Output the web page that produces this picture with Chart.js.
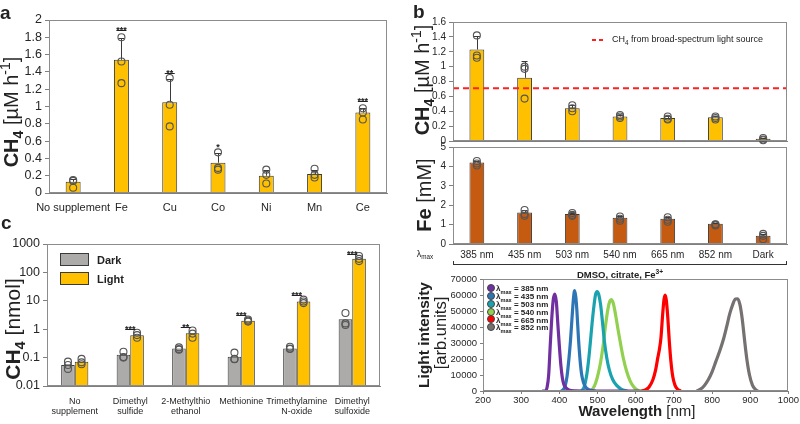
<!DOCTYPE html>
<html>
<head>
<meta charset="utf-8">
<script src="https://cdn.jsdelivr.net/npm/chart.js@4.4.0/dist/chart.umd.min.js"></script>
<style>
body { margin: 0; width: 800px; height: 424px; overflow: hidden; background: #fff; position: relative;
       font-family: 'Liberation Sans', Arial, sans-serif; color: #222; }
canvas { position: absolute; }
.t { position: absolute; white-space: nowrap; line-height: 1; z-index: 2; }
.rot { transform: translate(-50%, -50%) rotate(-90deg); }
.ctr { transform: translate(-50%, -50%); }
sub, sup { font-size: 70%; line-height: 0; }
.box { position: absolute; z-index: 2; }
#legendD { position: absolute; left: 487px; top: 285px; z-index: 2; font-size: 8px; font-weight: bold; }
#legendD div { height: 7.9px; line-height: 7.9px; white-space: nowrap; }
#legendD span.dot { display: inline-block; width: 6px; height: 6px; border: 1px solid #444; border-radius: 50%;
                    vertical-align: middle; margin-right: 1px; margin-top: -2px; }
</style>
</head>
<body>
<canvas id="chartA" width="400" height="215" style="left:0;top:0"></canvas>
<canvas id="chartB1" width="400" height="150" style="left:400px;top:0"></canvas>
<canvas id="chartB2" width="400" height="128" style="left:400px;top:136px"></canvas>
<canvas id="chartC" width="400" height="202" style="left:0;top:222px"></canvas>
<canvas id="chartD" width="400" height="156" style="left:400px;top:268px"></canvas>

<!-- panel letters -->
<div class="t" style="left:0;top:3px;font-size:19px;font-weight:bold">a</div>
<div class="t" style="left:413px;top:2px;font-size:19px;font-weight:bold">b</div>
<div class="t" style="left:1px;top:213px;font-size:19px;font-weight:bold">c</div>

<!-- axis titles -->
<div class="t rot" style="left:11px;top:112px;font-size:20px"><b>CH<sub>4</sub></b> [µM h<sup>-1</sup>]</div>
<div class="t rot" style="left:422px;top:80px;font-size:20px"><b>CH<sub>4</sub></b> [µM h<sup>-1</sup>]</div>
<div class="t rot" style="left:424px;top:195px;font-size:20px"><b>Fe</b> [mM]</div>
<div class="t rot" style="left:12px;top:329px;font-size:21px"><b>CH<sub>4</sub></b> [nmol]</div>
<div class="t rot" style="left:424px;top:335px;font-size:15.5px;font-weight:bold">Light intensity</div>
<div class="t rot" style="left:440px;top:333px;font-size:16.5px">[arb.units]</div>
<div class="t ctr" style="left:637px;top:410px;font-size:15px"><b>Wavelength</b> [nm]</div>

<!-- panel b extras -->
<div class="t ctr" style="left:425px;top:254px;font-size:9px">λ<sub>max</sub></div>
<div class="box" style="left:453px;top:261px;width:332px;height:3px;border:1px solid #333;border-top:none"></div>
<div class="t ctr" style="left:620px;top:275px;font-size:9.5px;font-weight:bold">DMSO, citrate, Fe<sup>3+</sup></div>
<div class="box" style="left:592px;top:39px;width:11px;height:2px;background:repeating-linear-gradient(90deg,#ff2020 0 4px,transparent 4px 7px)"></div>
<div class="t" style="left:612px;top:35px;font-size:9px">CH<sub>4</sub> from broad-spectrum light source</div>

<!-- panel c legend -->
<div id="legendC"></div>
<!-- panel d legend -->
<div id="legendD"></div>

<script>
// ---- panel a : CH4 with metal supplements ----
const aLabels = ['No supplement', 'Fe', 'Cu', 'Co', 'Ni', 'Mn', 'Ce'];
const aMeans = [0.13, 1.54, 1.05, 0.35, 0.20, 0.22, 0.93];
const aErr = [0.03, 0.25, 0.27, 0.11, 0.07, 0.05, 0.05];
const aPoints = [[0.15, 0.06, 0.14], [1.80, 1.52, 1.27], [1.33, 1.02, 0.77], [0.47, 0.29, 0.27],
                 [0.27, 0.21, 0.11], [0.28, 0.21, 0.18], [0.98, 0.93, 0.85]];
const aStars = ['', '***', '**', '*', '', '', '***'];
const aSigY = [null, 1.88, 1.39, 0.53, null, null, 1.06];

// ---- panel b : wavelengths ----
const bLabels = ['385 nm', '435 nm', '503 nm', '540 nm', '665 nm', '852 nm', 'Dark'];
const bCH4 = [1.23, 0.85, 0.44, 0.33, 0.31, 0.32, 0.03];
const bCH4Err = [0.18, 0.22, 0.04, 0.02, 0.02, 0.01, 0.01];
const bCH4Points = [[1.42, 1.15, 1.12], [1.00, 0.97, 0.57], [0.48, 0.44, 0.40], [0.35, 0.33, 0.31],
                    [0.33, 0.30, 0.29], [0.33, 0.31, 0.29], [0.04, 0.02, 0.01]];
const bBroadSpectrum = 0.71;
const bFe = [4.20, 1.63, 1.55, 1.35, 1.30, 1.05, 0.42];
const bFeErr = [0.08, 0.12, 0.06, 0.08, 0.08, 0.02, 0.1];
const bFePoints = [[4.28, 4.15, 4.05], [1.75, 1.55, 1.45], [1.60, 1.50, 1.45], [1.42, 1.30, 1.20],
                   [1.38, 1.25, 1.15], [1.02, 1.00, 0.95], [0.52, 0.42, 0.25]];

// ---- panel c : methylated substrates ----
const cLabels = [['No', 'supplement'], ['Dimethyl', 'sulfide'], ['2-Methylthio', 'ethanol'],
                 ['Methionine'], ['Trimethylamine', 'N-oxide'], ['Dimethyl', 'sulfoxide']];
const cDark = [0.055, 0.125, 0.21, 0.108, 0.21, 2.25];
const cLight = [0.072, 0.61, 0.72, 2.0, 9.4, 300];
const cDarkPoints = [[0.072, 0.055, 0.04], [0.16, 0.105, 0.1], [0.23, 0.2, 0.19],
                     [0.15, 0.09, 0.087], [0.24, 0.21, 0.2], [3.7, 1.6, 1.4]];
const cLightPoints = [[0.09, 0.068, 0.058], [0.75, 0.62, 0.5], [0.9, 0.7, 0.5],
                      [2.2, 2.0, 1.85], [11, 9.5, 8.3], [380, 300, 250]];
const cStars = ['', '***', '**', '***', '***', '***'];
const cSigY = [null, 1.0, 1.18, 3.2, 16, 457];
const cTicks = [0.01, 0.1, 1, 10, 100, 1000];

// ---- panel d : LED spectra ----
const dWaves = ['385', '435', '503', '540', '665', '852'];
const dColors = ['#7030A0', '#2E75B6', '#1AA3AF', '#92D050', '#FF0000', '#767171'];
const d385 = [[355, 0], [363, 0], [368, 2500], [372, 10000], [376, 28000], [380, 45000], [384, 57000], [388, 60600],
              [392, 56000], [396, 42000], [400, 28000], [404, 16000], [408, 8000], [412, 4000], [418, 1800],
              [425, 700], [440, 100], [460, 0], [610, 0]];
const d435 = [[405, 0], [410, 800], [415, 3000], [420, 9000], [425, 20000], [429, 31000], [433, 45000], [437, 58000],
              [440, 62800], [443, 59000], [446, 50000], [450, 33000], [454, 20000], [458, 11000], [463, 5500],
              [470, 2000], [480, 600], [495, 0]];
const d503 = [[458, 0], [465, 2500], [471, 9000], [476, 18000], [481, 30000], [486, 43000], [491, 54000], [495, 60500],
              [499, 62200], [503, 60500], [508, 54000], [513, 43000], [518, 31000], [524, 21000], [531, 13000],
              [540, 7000], [550, 3500], [562, 1200], [578, 0]];
const d540 = [[480, 0], [488, 1500], [495, 5000], [502, 11000], [508, 18000], [515, 29000], [521, 41000], [527, 51000],
              [532, 56000], [536, 57200], [541, 55000], [547, 48000], [554, 38000], [561, 28600], [568, 20000],
              [576, 12500], [585, 6500], [595, 2500], [605, 500], [615, 0]];
const d665 = [[610, 0], [625, 700], [635, 2500], [645, 7000], [652, 13000], [658, 21000], [662, 26000], [666, 33000],
              [670, 46000], [674, 57000], [677, 60000], [680, 57000], [684, 46000], [688, 31000], [692, 19000],
              [697, 9000], [703, 3500], [710, 1000], [718, 0]];
const d852 = [[760, 0], [770, 1200], [780, 3500], [790, 7000], [800, 12000], [810, 18500], [820, 25000], [830, 32500],
              [838, 40000], [846, 48000], [854, 54000], [861, 57500], [867, 57600], [873, 54000], [879, 45000],
              [885, 32000], [891, 20000], [898, 10000], [906, 3500], [914, 800], [920, 0]];
const dSeries = [d385, d435, d503, d540, d665, d852];

const YELLOW = '#FFC000';
const RUST = '#C55A11';
const GREY = '#ADAAAA';
const EDGE = '#3a3a3a';
const AXIS = '#7f7f7f';

Chart.defaults.font.family = "'Liberation Sans', Arial, sans-serif";
Chart.defaults.color = '#262626';
Chart.defaults.animation = false;
Chart.defaults.plugins.legend.display = false;
Chart.defaults.plugins.tooltip.enabled = false;

// plain number labels: 0.2 not 0.20, 70000 not 70,000
const plainTick = v => String(Math.round(v * 100) / 100);

// error bars, replicate circles, significance marks and plot frame
const marksPlugin = {
    id: 'marks',
    afterDatasetsDraw(chart, args, opts) {
        const ctx = chart.ctx;
        const yScale = chart.scales.y;
        const area = chart.chartArea;
        ctx.save();
        if (opts.refLine != null) {
            const py = yScale.getPixelForValue(opts.refLine);
            ctx.strokeStyle = '#ff2020';
            ctx.lineWidth = 2;
            ctx.setLineDash([6, 4]);
            ctx.beginPath();
            ctx.moveTo(area.left, py);
            ctx.lineTo(area.right, py);
            ctx.stroke();
            ctx.setLineDash([]);
        }
        (opts.sets || []).forEach(set => {
            const meta = chart.getDatasetMeta(set.ds);
            const means = chart.data.datasets[set.ds].data;
            meta.data.forEach((bar, i) => {
                const x = bar.x;
                ctx.strokeStyle = EDGE;
                ctx.lineWidth = 1;
                if (set.err) {
                    const y0 = yScale.getPixelForValue(means[i]);
                    const y1 = Math.round(yScale.getPixelForValue(means[i] + set.err[i])) + 0.5;
                    ctx.beginPath();
                    ctx.moveTo(Math.round(x) + 0.5, y0);
                    ctx.lineTo(Math.round(x) + 0.5, y1);
                    ctx.moveTo(x - 3, y1);
                    ctx.lineTo(x + 3, y1);
                    ctx.stroke();
                }
                ctx.strokeStyle = '#555';
                ctx.lineWidth = 1.1;
                set.pts[i].forEach(v => {
                    ctx.beginPath();
                    ctx.arc(x, yScale.getPixelForValue(v), 3.5, 0, Math.PI * 2);
                    ctx.stroke();
                });
            });
        });
        if (opts.stars) {
            ctx.fillStyle = '#222';
            ctx.strokeStyle = '#222';
            ctx.lineWidth = 1;
            ctx.font = 'bold 9px "Liberation Sans", Arial';
            ctx.textAlign = 'center';
            ctx.textBaseline = 'alphabetic';
            opts.stars.forEach((s, i) => {
                if (!s) return;
                const x = chart.scales.x.getPixelForValue(i);
                const py = Math.round(yScale.getPixelForValue(opts.sigY[i])) + 0.5;
                if (s.length > 1) {
                    ctx.beginPath();
                    ctx.moveTo(x - 5, py);
                    ctx.lineTo(x + 5, py);
                    ctx.stroke();
                }
                ctx.fillText(s, x, py + 2);
            });
        }
        ctx.restore();
    },
    afterDraw(chart) {
        const a = chart.chartArea;
        const ctx = chart.ctx;
        ctx.save();
        ctx.strokeStyle = '#8c8c8c';
        ctx.lineWidth = 1;
        ctx.strokeRect(Math.round(a.left) + 0.5, Math.round(a.top) + 0.5,
                       Math.round(a.right - a.left) - 1, Math.round(a.bottom - a.top) - 1);
        ctx.restore();
    }
};
Chart.register(marksPlugin);

function yGrid() {
    return { drawOnChartArea: false, tickLength: 4, color: AXIS };
}
const noGrid = { display: false, drawTicks: false };

// panel a
new Chart(document.getElementById('chartA'), {
    type: 'bar',
    data: {
        labels: aLabels,
        datasets: [{ data: aMeans, backgroundColor: YELLOW, borderColor: EDGE, borderWidth: 1,
                     barPercentage: 0.31, categoryPercentage: 1 }]
    },
    options: {
        responsive: false,
        layout: { padding: { top: 20, right: 13, bottom: 0, left: 0 } },
        plugins: { marks: { sets: [{ ds: 0, err: aErr, pts: aPoints }], stars: aStars, sigY: aSigY } },
        scales: {
            x: { afterFit: s => { s.height = 22; }, grid: noGrid, border: { color: AXIS },
                 ticks: { font: { size: 11 }, padding: 8, maxRotation: 0, autoSkip: false } },
            y: { min: 0, max: 2, afterFit: s => { s.width = 49; }, grid: yGrid(), border: { color: AXIS },
                 ticks: { stepSize: 0.2, font: { size: 12.5 }, padding: 3, autoSkip: false, callback: plainTick } }
        }
    }
});

// panel b, CH4
new Chart(document.getElementById('chartB1'), {
    type: 'bar',
    data: {
        labels: bLabels,
        datasets: [{ data: bCH4, backgroundColor: YELLOW, borderColor: EDGE, borderWidth: 1,
                     barPercentage: 0.31, categoryPercentage: 1 }]
    },
    options: {
        responsive: false,
        layout: { padding: { top: 22, right: 13, bottom: 9, left: 0 } },
        plugins: { marks: { sets: [{ ds: 0, err: bCH4Err, pts: bCH4Points }], refLine: bBroadSpectrum } },
        scales: {
            x: { afterFit: s => { s.height = 0; }, grid: noGrid, border: { color: AXIS },
                 ticks: { display: false } },
            y: { min: 0, max: 1.6, afterFit: s => { s.width = 53; }, grid: yGrid(), border: { color: AXIS },
                 ticks: { stepSize: 0.2, font: { size: 10 }, padding: 3, autoSkip: false, callback: plainTick } }
        }
    }
});

// panel b, Fe
new Chart(document.getElementById('chartB2'), {
    type: 'bar',
    data: {
        labels: bLabels,
        datasets: [{ data: bFe, backgroundColor: RUST, borderColor: EDGE, borderWidth: 1,
                     barPercentage: 0.31, categoryPercentage: 1 }]
    },
    options: {
        responsive: false,
        layout: { padding: { top: 11, right: 13, bottom: 0, left: 0 } },
        plugins: { marks: { sets: [{ ds: 0, err: bFeErr, pts: bFePoints }] } },
        scales: {
            x: { afterFit: s => { s.height = 20; }, grid: noGrid, border: { color: AXIS },
                 ticks: { font: { size: 10 }, padding: 5, maxRotation: 0, autoSkip: false } },
            y: { min: 0, max: 5, afterFit: s => { s.width = 53; }, grid: yGrid(), border: { color: AXIS },
                 ticks: { stepSize: 1, font: { size: 10 }, padding: 3, autoSkip: false, callback: plainTick } }
        }
    }
});

// panel c
new Chart(document.getElementById('chartC'), {
    type: 'bar',
    data: {
        labels: cLabels,
        datasets: [
            { label: 'Dark', data: cDark, backgroundColor: GREY, borderColor: EDGE, borderWidth: 1,
              barPercentage: 1, categoryPercentage: 0.49 },
            { label: 'Light', data: cLight, backgroundColor: YELLOW, borderColor: EDGE, borderWidth: 1,
              barPercentage: 1, categoryPercentage: 0.49 }
        ]
    },
    options: {
        responsive: false,
        layout: { padding: { top: 22, right: 20, bottom: 0, left: 0 } },
        plugins: { marks: { sets: [{ ds: 0, pts: cDarkPoints }, { ds: 1, pts: cLightPoints }],
                            stars: cStars, sigY: cSigY } },
        scales: {
            x: { afterFit: s => { s.height = 38; }, grid: noGrid, border: { color: AXIS },
                 ticks: { font: { size: 9, lineHeight: 1.08 }, padding: 11, maxRotation: 0, autoSkip: false } },
            y: { type: 'logarithmic', min: 0.01, max: 1000, afterFit: s => { s.width = 47; },
                 afterBuildTicks: s => { s.ticks = cTicks.map(v => ({ value: v })); },
                 grid: yGrid(), border: { color: AXIS },
                 ticks: { font: { size: 12.5 }, padding: 3, callback: v => String(v) } }
        }
    }
});

// panel d
new Chart(document.getElementById('chartD'), {
    type: 'line',
    data: {
        datasets: dSeries.map((s, i) => ({
            label: dWaves[i], data: s, borderColor: dColors[i], borderWidth: 3.2,
            pointRadius: 0, cubicInterpolationMode: 'monotone', fill: false
        }))
    },
    options: {
        responsive: false,
        layout: { padding: { top: 11, right: 10, bottom: 0, left: 0 } },
        scales: {
            x: { type: 'linear', min: 200, max: 1000, afterFit: s => { s.height = 33; },
                 grid: { drawOnChartArea: false, tickLength: 3, color: AXIS }, border: { color: AXIS },
                 ticks: { stepSize: 100, font: { size: 9.5 }, padding: 1, callback: plainTick } },
            y: { min: 0, max: 70000, afterFit: s => { s.width = 83; },
                 grid: { drawOnChartArea: false, tickLength: 3, color: AXIS }, border: { color: AXIS },
                 ticks: { stepSize: 10000, font: { size: 9.5 }, padding: 3, autoSkip: false, callback: plainTick } }
        }
    }
});

// legends
const legendC = document.getElementById('legendC');
[['Dark', GREY, 253], ['Light', YELLOW, 272]].forEach(([name, color, top]) => {
    const sw = document.createElement('div');
    sw.className = 'box';
    sw.style.cssText = `left:60px;top:${top}px;width:27px;height:11px;background:${color};border:1px solid ${EDGE}`;
    legendC.appendChild(sw);
    const tx = document.createElement('div');
    tx.className = 't';
    tx.style.cssText = `left:97px;top:${top + 2}px;font-size:11px;font-weight:bold`;
    tx.textContent = name;
    legendC.appendChild(tx);
});

const legendD = document.getElementById('legendD');
dWaves.forEach((w, i) => {
    const row = document.createElement('div');
    row.innerHTML = `<span class="dot" style="background:${dColors[i]}"></span>λ<sub>max</sub> = ${w} nm`;
    legendD.appendChild(row);
});
</script>
</body>
</html>
